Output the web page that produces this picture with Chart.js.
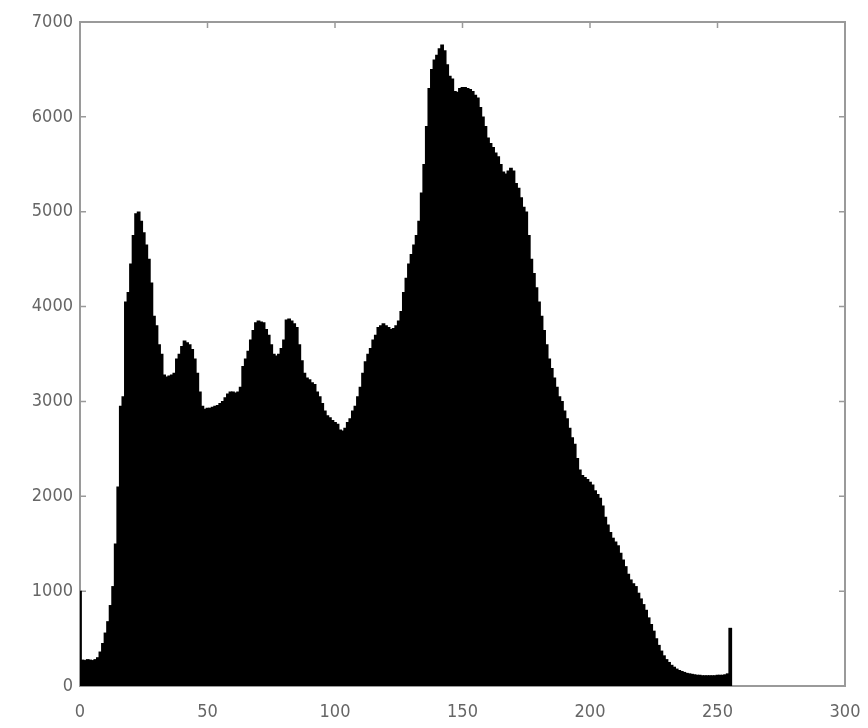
<!DOCTYPE html>
<html>
<head>
<meta charset="utf-8">
<script src="https://cdn.jsdelivr.net/npm/chart.js@4.4.0/dist/chart.umd.min.js"></script>
<style>
  html, body { margin: 0; padding: 0; background: #fff; }
  #myChart { display: block; }
</style>
</head>
<body>
<canvas id="myChart" width="868" height="728"></canvas>
<script>
// histogram counts for grey levels 0..255
const counts = [
  1000, 275, 270, 280, 275, 270, 280, 300, 360, 450,       // 0-9
  560, 680, 850, 1050, 1500, 2100, 2950, 3050, 4050, 4150, // 10-19
  4450, 4750, 4980, 5000, 4900, 4780, 4650, 4500, 4250, 3900, // 20-29
  3800, 3600, 3500, 3280, 3260, 3270, 3280, 3300, 3450, 3500, // 30-39
  3580, 3640, 3620, 3600, 3550, 3450, 3300, 3100, 2950, 2920, // 40-49
  2930, 2930, 2940, 2950, 2960, 2980, 3000, 3040, 3080, 3100, // 50-59
  3100, 3090, 3100, 3150, 3370, 3450, 3530, 3650, 3750, 3830, // 60-69
  3850, 3840, 3830, 3760, 3700, 3600, 3500, 3480, 3500, 3560, // 70-79
  3650, 3860, 3870, 3850, 3820, 3780, 3600, 3430, 3300, 3250, // 80-89
  3230, 3200, 3180, 3100, 3050, 2980, 2900, 2850, 2830, 2800, // 90-99
  2780, 2760, 2700, 2690, 2720, 2780, 2820, 2900, 2950, 3050, // 100-109
  3150, 3300, 3420, 3500, 3560, 3650, 3700, 3780, 3800, 3820, // 110-119
  3800, 3780, 3760, 3770, 3800, 3850, 3950, 4150, 4300, 4450, // 120-129
  4550, 4650, 4750, 4900, 5200, 5500, 5900, 6300, 6500, 6600, // 130-139
  6650, 6720, 6760, 6700, 6550, 6430, 6400, 6270, 6260, 6300, // 140-149
  6310, 6310, 6300, 6290, 6270, 6230, 6200, 6100, 6000, 5900, // 150-159
  5780, 5720, 5680, 5620, 5580, 5500, 5420, 5400, 5430, 5460, // 160-169
  5430, 5300, 5250, 5150, 5050, 5000, 4750, 4500, 4350, 4200, // 170-179
  4050, 3900, 3750, 3600, 3450, 3350, 3250, 3150, 3050, 3000, // 180-189
  2900, 2820, 2720, 2620, 2550, 2400, 2280, 2220, 2200, 2180, // 190-199
  2150, 2120, 2060, 2020, 1980, 1900, 1780, 1700, 1620, 1560, // 200-209
  1520, 1480, 1400, 1330, 1260, 1180, 1120, 1080, 1050, 980,  // 210-219
  920, 860, 800, 720, 650, 580, 500, 430, 370, 320,           // 220-229
  280, 250, 220, 200, 180, 165, 155, 145, 135, 130,           // 230-239
  125, 120, 115, 115, 110, 110, 110, 110, 110, 110,           // 240-249
  115, 115, 115, 120, 130, 610                                // 250-255
];
const xTicks = [0, 50, 100, 150, 200, 250, 300];
const yTicks = [0, 1000, 2000, 3000, 4000, 5000, 6000, 7000];

const FRAME = '#9a9a9a';
const LABEL = '#666666';
const FONT = "'DejaVu Sans Condensed', 'Liberation Sans Narrow', 'Liberation Sans', Arial, sans-serif";

// grey box with inward ticks on all four sides
const framePlugin = {
  id: 'frame',
  beforeDatasetsDraw(chart) {
    const { ctx, chartArea: a, scales } = chart;
    ctx.save();
    ctx.strokeStyle = FRAME;
    ctx.lineWidth = 2;
    ctx.strokeRect(a.left, a.top, a.right - a.left, a.bottom - a.top);
    ctx.lineWidth = 1.5;
    const len = 6;
    ctx.beginPath();
    xTicks.forEach(v => {
      const x = scales.x.getPixelForValue(v);
      ctx.moveTo(x, a.bottom); ctx.lineTo(x, a.bottom - len);
      ctx.moveTo(x, a.top); ctx.lineTo(x, a.top + len);
    });
    yTicks.forEach(v => {
      const y = scales.y.getPixelForValue(v);
      ctx.moveTo(a.left, y); ctx.lineTo(a.left + len, y);
      ctx.moveTo(a.right, y); ctx.lineTo(a.right - len, y);
    });
    ctx.stroke();
    ctx.restore();
  }
};

const plain = v => String(v);

const ctx = document.getElementById('myChart').getContext('2d');
new Chart(ctx, {
  type: 'bar',
  data: {
    datasets: [{
      data: counts.map((v, i) => ({ x: i, y: v })),
      backgroundColor: '#000',
      borderWidth: 0,
      barThickness: 3.1
    }]
  },
  options: {
    responsive: false,
    animation: false,
    events: [],
    layout: { autoPadding: false, padding: { left: 0, right: 23, top: 22, bottom: 0 } },
    plugins: {
      legend: { display: false },
      tooltip: { enabled: false }
    },
    scales: {
      x: {
        type: 'linear',
        min: 0,
        max: 300,
        offset: false,
        grid: { display: false, drawTicks: false },
        border: { display: false },
        afterBuildTicks: s => { s.ticks = xTicks.map(v => ({ value: v })); },
        afterFit: s => { s.height = 42; s.paddingLeft = 0; s.paddingRight = 0; },
        ticks: { color: LABEL, padding: 16, maxRotation: 0, callback: plain, font: { family: FONT, size: 18 } }
      },
      y: {
        min: 0,
        max: 7000,
        grid: { display: false, drawTicks: false },
        border: { display: false },
        afterBuildTicks: s => { s.ticks = yTicks.map(v => ({ value: v })); },
        afterFit: s => { s.width = 80; s.paddingTop = 0; s.paddingBottom = 0; },
        ticks: { color: LABEL, padding: 7, callback: plain, font: { family: FONT, size: 18 } }
      }
    }
  },
  plugins: [framePlugin]
});
</script>
</body>
</html>
